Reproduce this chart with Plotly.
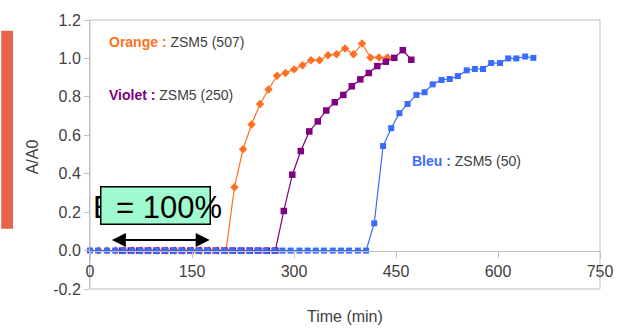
import plotly.graph_objects as go

# ---------------- data ----------------
orange_t = [0, 12.5, 25, 37.5, 50, 62.5, 75, 87.5, 100, 112.5, 125, 137.5, 150, 162.5, 175, 187.5, 200,
            212.5, 225, 237.5, 250, 262.5, 275, 287.5, 300, 312.5, 325, 337.5, 350, 362.5, 375, 387.5,
            400, 412.5, 425, 437.5]
orange_v = [0, 0, 0, 0, 0, 0, 0, 0, 0, 0, 0, 0, 0, 0, 0, 0, 0,
            0.33, 0.527, 0.656, 0.763, 0.838, 0.91, 0.924, 0.943, 0.964, 0.99, 0.991, 1.017, 1.022,
            1.052, 1.022, 1.078, 1.005, 1.005, 1.005]

violet_t = [47.5, 60, 72.5, 85, 97.5, 110, 122.5, 135, 147.5, 160, 172.5, 185, 197.5, 210, 222.5, 235,
            247.5, 260, 272.5,
            285, 297.5, 310, 322.5, 335, 347.5, 360, 372.5, 385, 397.5, 410, 422.5, 435, 447.5, 460, 472.5]
violet_v = [0, 0, 0, 0, 0, 0, 0, 0, 0, 0, 0, 0, 0, 0, 0, 0, 0, 0, 0,
            0.206, 0.395, 0.518, 0.62, 0.672, 0.729, 0.772, 0.81, 0.855, 0.891, 0.924, 0.96, 0.983,
            1.003, 1.043, 0.993]

bleu_t = [0, 12, 25, 37, 49, 62, 74, 86, 98, 111, 123, 135, 148, 160, 172, 185, 197, 209, 221, 234,
          246, 258, 271, 283, 295, 308, 320, 332, 344, 357, 369, 381, 394, 406,
          418, 431, 443, 455, 467, 480, 492, 504, 517, 529, 541, 554, 566, 578, 590, 603, 615, 627,
          640, 652]
bleu_v = [0, 0, 0, 0, 0, 0, 0, 0, 0, 0, 0, 0, 0, 0, 0, 0, 0, 0, 0, 0,
          0, 0, 0, 0, 0, 0, 0, 0, 0, 0, 0, 0, 0, 0,
          0.142, 0.544, 0.637, 0.715, 0.763, 0.81, 0.824, 0.865, 0.888, 0.893, 0.908, 0.938, 0.945,
          0.945, 0.976, 0.976, 1.0, 1.0, 1.01, 1.003]

x_ticks = [0, 150, 300, 450, 600, 750]
y_ticks = [-0.2, 0.0, 0.2, 0.4, 0.6, 0.8, 1.0, 1.2]

ORANGE = "#FF7021"
VIOLET = "#800080"
BLEU = "#3A6BFF"
GRAY = "#BFBFBF"
TXT = "#404040"
FONT = "Liberation Sans, Arial, sans-serif"

fig = go.Figure()

fig.add_trace(go.Scatter(x=orange_t, y=orange_v, mode="lines+markers",
                         line=dict(color=ORANGE, width=1.2),
                         marker=dict(symbol="diamond", size=6.5, color=ORANGE),
                         cliponaxis=False, showlegend=False))
fig.add_trace(go.Scatter(x=violet_t, y=violet_v, mode="lines+markers",
                         line=dict(color=VIOLET, width=1.2),
                         marker=dict(symbol="square", size=6.5, color=VIOLET),
                         cliponaxis=False, showlegend=False))
fig.add_trace(go.Scatter(x=bleu_t, y=bleu_v, mode="lines+markers",
                         line=dict(color=BLEU, width=1.2),
                         marker=dict(symbol="square", size=6, color=BLEU),
                         cliponaxis=False, showlegend=False))

annotations = [
    # "E" drawn first so the green box covers its right part
    dict(x=1.0, y=0.226, xref="x", yref="y", text="E", showarrow=False,
         xanchor="left", yanchor="middle", font=dict(family=FONT, size=31, color="black")),
    # green box
    dict(x=96.5, y=0.2335, xref="x", yref="y", text=" ", showarrow=False,
         xanchor="center", yanchor="middle", width=108, height=36, borderpad=0,
         bgcolor="#9FFBCF", bordercolor="black", borderwidth=1.5,
         font=dict(family=FONT, size=10, color="black")),
    dict(x=35, y=0.226, xref="x", yref="y", text="= 100%", showarrow=False,
         xanchor="left", yanchor="middle", font=dict(family=FONT, size=31, color="black")),
    dict(x=176, y=0.055, ax=30, ay=0.055, xref="x", yref="y", axref="x", ayref="y",
         text="", showarrow=True, arrowhead=2, startarrowhead=2, arrowside="end+start",
         arrowwidth=2, arrowsize=1.4, startarrowsize=1.4, arrowcolor="black"),
    dict(x=24.8, y=1.083, xref="x", yref="y", xanchor="left", yanchor="middle", showarrow=False,
         text=f"<b><span style='color:{ORANGE}'>Orange :</span></b> ZSM5 (507)",
         font=dict(family=FONT, size=14, color=TXT)),
    dict(x=24.8, y=0.808, xref="x", yref="y", xanchor="left", yanchor="middle", showarrow=False,
         text=f"<b><span style='color:{VIOLET}'>Violet :</span></b> ZSM5 (250)",
         font=dict(family=FONT, size=14, color=TXT)),
    dict(x=470, y=0.466, xref="x", yref="y", xanchor="left", yanchor="middle", showarrow=False,
         text=f"<b><span style='color:{BLEU}'>Bleu :</span></b> ZSM5 (50)",
         font=dict(family=FONT, size=14, color=TXT)),
    # axis titles
    dict(x=0.5, y=-0.103, xref="paper", yref="paper", text="Time (min)", showarrow=False,
         xanchor="center", yanchor="middle", font=dict(family=FONT, size=16, color=TXT)),
    dict(x=-0.112, y=0.4926, xref="paper", yref="paper", text="A/A0", showarrow=False,
         textangle=-90, xanchor="center", yanchor="middle", font=dict(family=FONT, size=16, color=TXT)),
]

shapes = [
    dict(type="rect", xref="paper", yref="paper", x0=0, x1=1, y0=0, y1=1,
         line=dict(color=GRAY, width=1), fillcolor="rgba(0,0,0,0)", layer="below"),
    dict(type="rect", xref="paper", yref="paper", x0=-0.1741, x1=-0.1509, y0=0.2243, y1=0.9596,
         line=dict(width=0), fillcolor="#E9624E"),
]

fig.update_layout(
    width=625, height=328,
    margin=dict(l=90, r=18, t=17, b=39),
    paper_bgcolor="white", plot_bgcolor="white",
    shapes=shapes, annotations=annotations,
    xaxis=dict(range=[0, 750], tickvals=x_ticks, ticktext=[str(v) for v in x_ticks],
               anchor="free", position=1/7, showline=True, linecolor=GRAY, linewidth=1,
               ticks="outside", ticklen=6, tickcolor=GRAY, showgrid=False, zeroline=False,
               tickfont=dict(family=FONT, size=16, color=TXT)),
    yaxis=dict(range=[-0.2, 1.2], tickvals=y_ticks, ticktext=[f"{v:.1f}" for v in y_ticks],
               showline=True, linecolor=GRAY, linewidth=1, ticks="outside", ticklen=5,
               tickcolor=GRAY, showgrid=False, zeroline=False,
               tickfont=dict(family=FONT, size=16, color=TXT)),
)

fig.write_html("out.html")
